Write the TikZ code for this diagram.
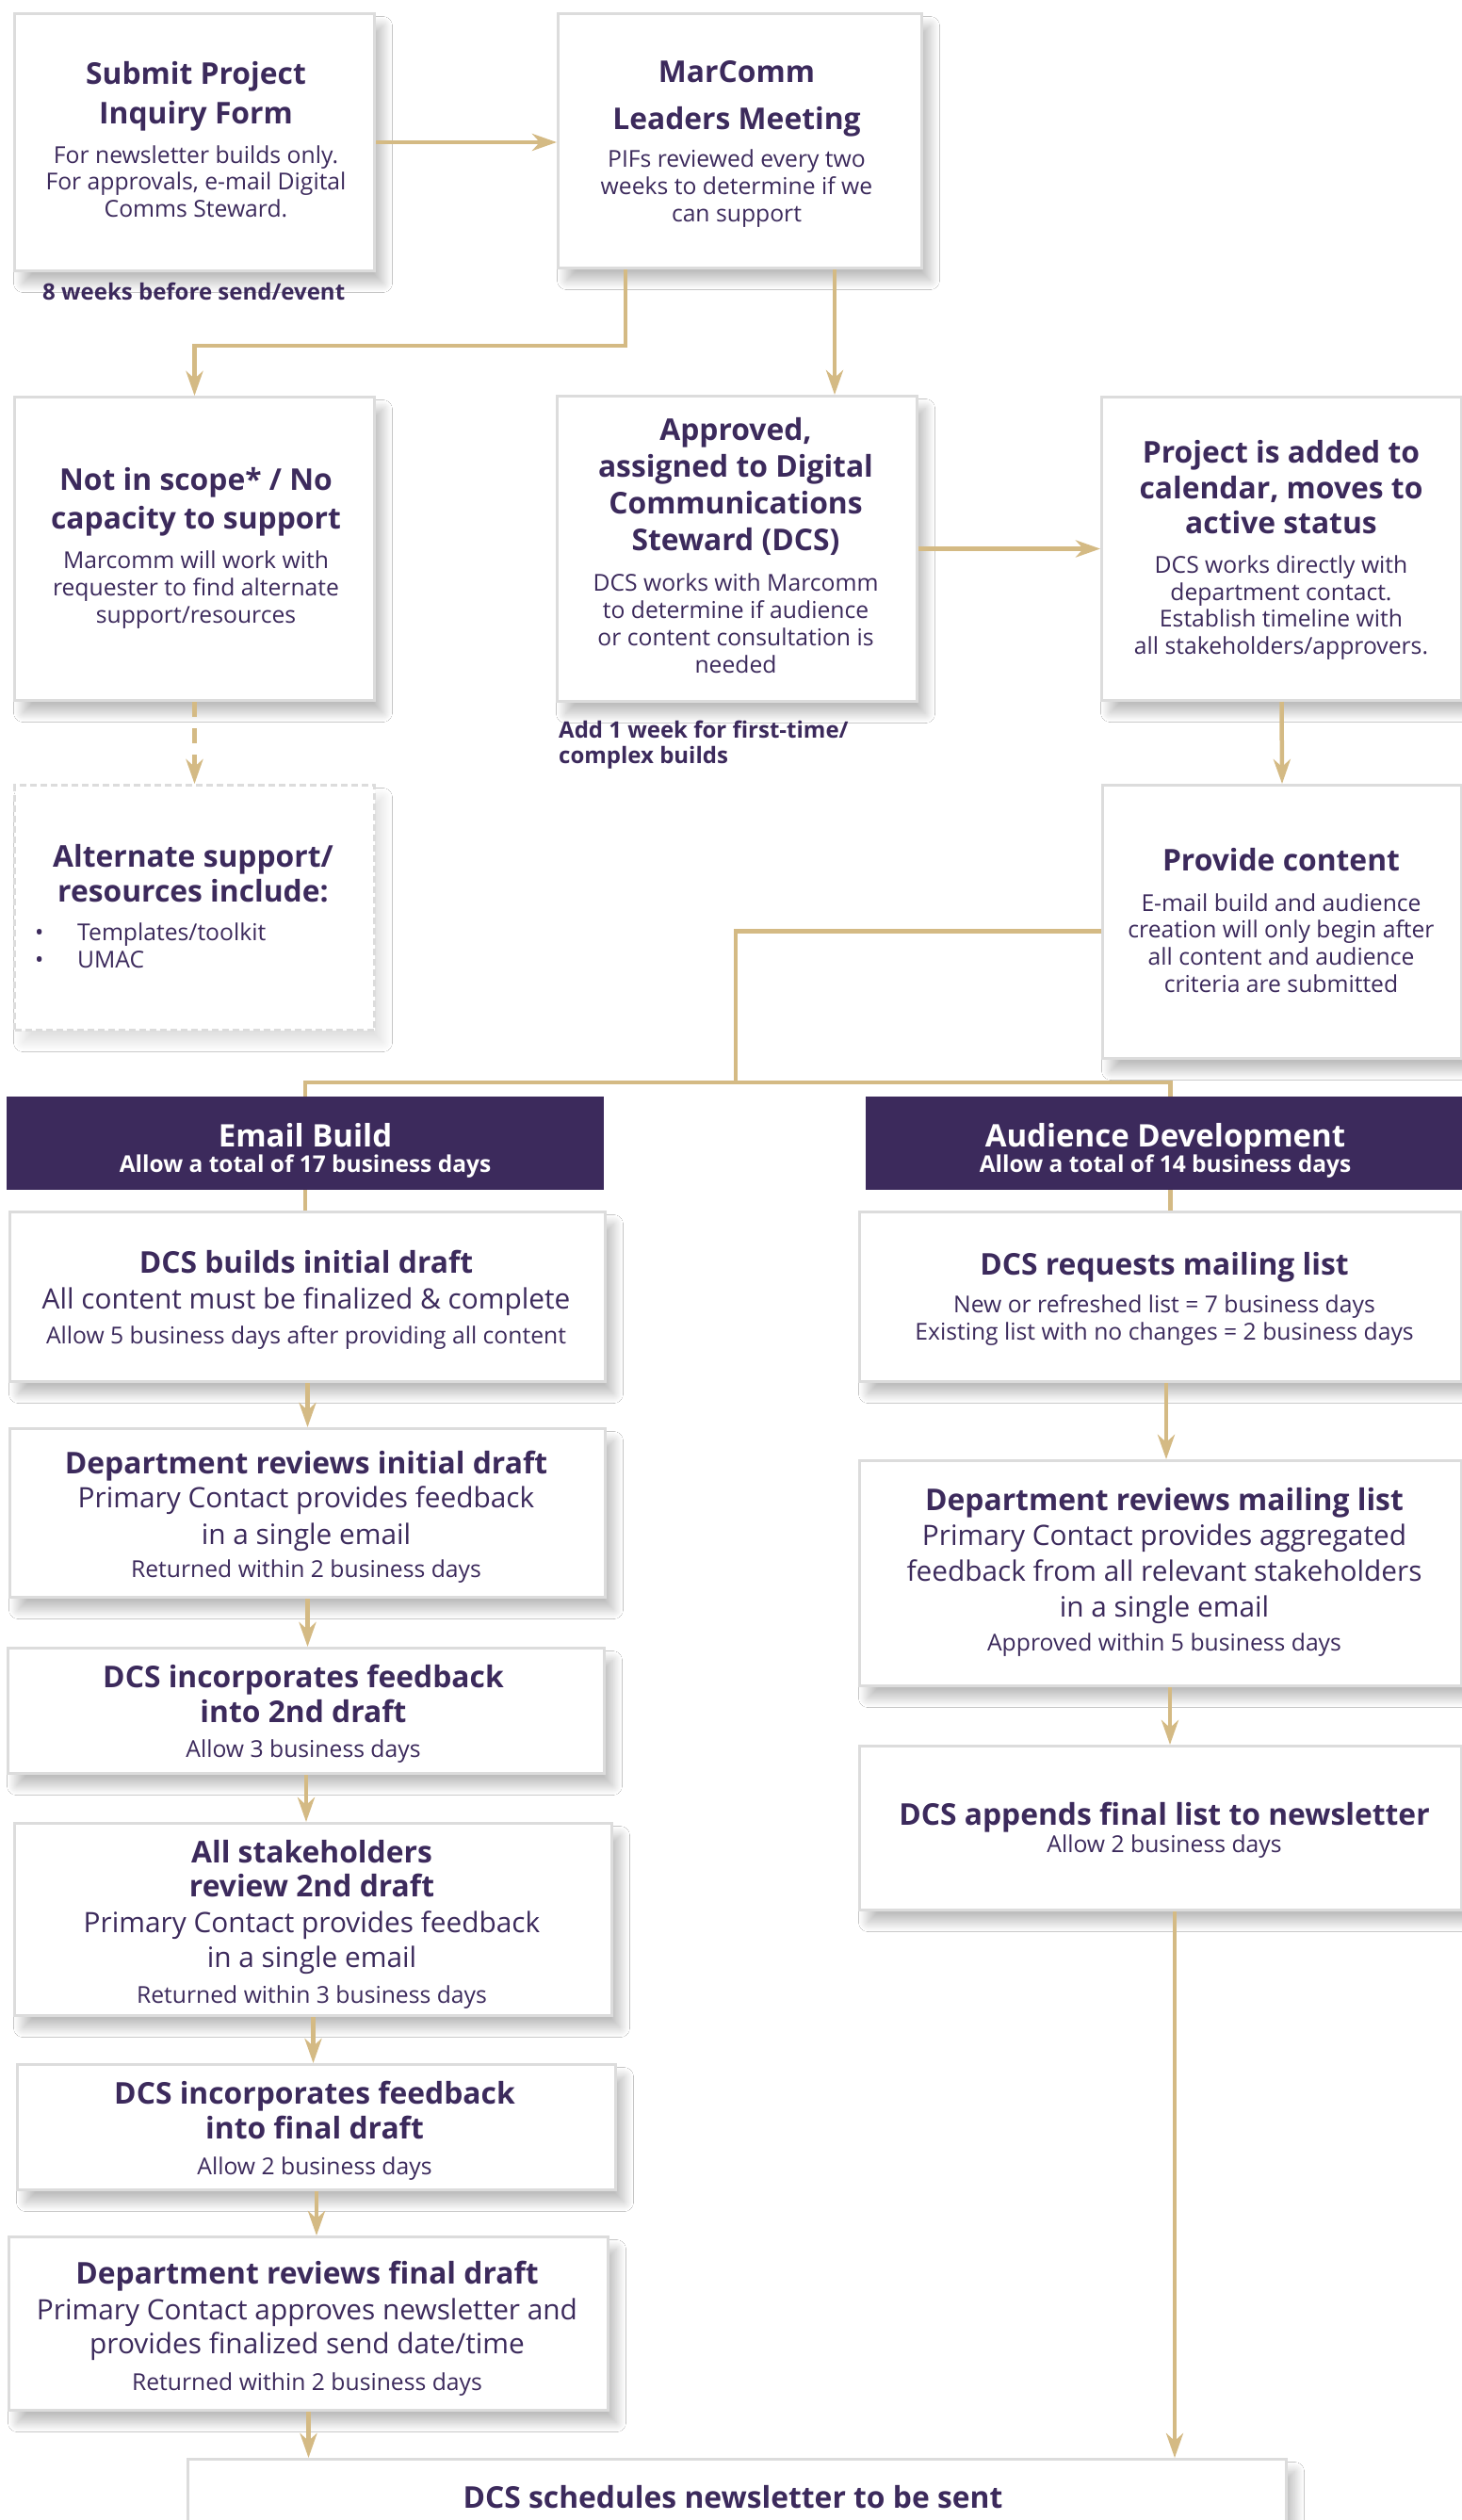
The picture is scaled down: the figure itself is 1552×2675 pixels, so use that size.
\documentclass[tikz,border=0pt]{standalone}
\usepackage{fontspec}
\setmainfont{Open Sans}
\usetikzlibrary{arrows.meta,shadows.blur,calc}
\definecolor{pur}{RGB}{60,42,92}
\definecolor{gold}{RGB}{212,186,132}
\definecolor{bord}{RGB}{220,220,220}
\tikzset{
  boxbase/.style={rectangle, inner sep=0pt, fill=white, line width=3pt},
  box/.style={boxbase, draw=bord, blur shadow={shadow xshift=9pt, shadow yshift=-13pt, shadow blur radius=10pt, shadow blur steps=20, shadow opacity=26}},
  dbox/.style={boxbase, draw=bord, dash pattern=on 7pt off 4pt, blur shadow={shadow xshift=9pt, shadow yshift=-13pt, shadow blur radius=10pt, shadow blur steps=20, shadow opacity=12}},
  hbox/.style={rectangle, inner sep=0pt, fill=pur, draw=none},
  ttl/.style={text=pur, inner sep=0pt, font=\fontsize{31.8}{40}\selectfont\bfseries},
  bod/.style={text=pur, inner sep=0pt, font=\fontsize{24.7}{29}\selectfont},
  big/.style={text=pur, inner sep=0pt, font=\fontsize{29.8}{36}\selectfont},
  note/.style={text=pur, inner sep=0pt, font=\fontsize{24}{29}\selectfont\bfseries},
  htt/.style={text=white, inner sep=0pt, font=\fontsize{33}{40}\selectfont\bfseries},
  hts/.style={text=white, inner sep=0pt, font=\fontsize{24.5}{29}\selectfont\bfseries},
  link/.style={draw=gold, line width=4.5pt},
  arr/.style={link, -{Stealth[length=26pt, width=18pt, inset=8pt]}},
  darr/.style={arr, dash pattern=on 16pt off 12pt}
}
\newcommand\bx[6]{\node[#2, anchor=north west, minimum width={#5-#3}, minimum height={#6-#4}] (#1) at (#3,#4) {};}
\newcommand\tl[5]{\node[#2, anchor=base] (#1) at (#3,#4) {#5};}
\newcommand\tw[5]{\node[#2, anchor=base west] (#1) at (#3,#4) {#5};}
\begin{document}
\begin{tikzpicture}[x=1pt,y=-1pt]
\useasboundingbox[fill=white] (0,0) rectangle (1552,2675);
% boxes
\bx{A}{box}{14}{13}{396}{286}
\bx{B}{box}{591}{13}{977}{283}
\bx{C}{box}{14}{420}{396}{742}
\bx{D}{box}{590}{419}{972}{743}
\bx{E}{box}{1168}{420}{1550}{742}
\bx{F}{dbox}{14}{832}{396}{1092}
\bx{G}{box}{1169}{832}{1550}{1122}
\bx{EB}{hbox}{7}{1164}{641}{1263}
\bx{AD}{hbox}{919}{1164}{1560}{1263}
\bx{H}{box}{9}{1285}{641}{1465}
\bx{I}{box}{911}{1285}{1550}{1465}
\bx{J}{box}{9}{1515}{641}{1694}
\bx{K}{box}{911}{1549}{1550}{1788}
\bx{L}{box}{7}{1748}{640}{1881}
\bx{M}{box}{14}{1934}{648}{2138}
\bx{N}{box}{17}{2190}{652}{2323}
\bx{O}{box}{8}{2373}{644}{2557}
\bx{R}{box}{911}{1852}{1550}{2026}
\bx{P}{box}{198}{2609}{1364}{2720}
% texts
\tl{A1}{ttl}{208}{89}{Submit Project}
\tl{A2}{ttl}{208}{131}{Inquiry Form}
\tl{A3}{bod}{208}{173}{For newsletter builds only.}
\tl{A4}{bod}{208}{201}{For approvals, e-mail Digital}
\tl{A5}{bod}{208}{230}{Comms Steward.}
\tw{N1}{note}{45}{318}{8 weeks before send/event}
\tl{B1}{ttl}{782}{87}{MarComm}
\tl{B2}{ttl}{782}{137}{Leaders Meeting}
\tl{B3}{bod}{782}{177}{PIFs reviewed every two}
\tl{B4}{bod}{782}{206}{weeks to determine if we}
\tl{B5}{bod}{782}{235}{can support}
\tl{C1}{ttl}{208}{520}{Not in scope* / No}
\tl{C2}{ttl}{208}{561}{capacity to support}
\tl{C3}{bod}{208}{603}{Marcomm will work with}
\tl{C4}{bod}{208}{632}{requester to find alternate}
\tl{C5}{bod}{208}{661}{support/resources}
\tl{D1}{ttl}{781}{467}{Approved,}
\tl{D2}{ttl}{781}{506}{assigned to Digital}
\tl{D3}{ttl}{781}{545}{Communications}
\tl{D4}{ttl}{781}{584}{Steward (DCS)}
\tl{D5}{bod}{781}{627}{DCS works with Marcomm}
\tl{D6}{bod}{781}{656}{to determine if audience}
\tl{D7}{bod}{781}{685}{or content consultation is}
\tl{D8}{bod}{781}{714}{needed}
\tw{N2}{note}{593}{783}{Add 1 week for first-time/}
\tw{N3}{note}{593}{810}{complex builds}
\tl{E1}{ttl}{1360}{491}{Project is added to}
\tl{E2}{ttl}{1360}{529}{calendar, moves to}
\tl{E3}{ttl}{1360}{566}{active status}
\tl{E4}{bod}{1360}{608}{DCS works directly with}
\tl{E5}{bod}{1360}{637}{department contact.}
\tl{E6}{bod}{1360}{665}{Establish timeline with}
\tl{E7}{bod}{1360}{694}{all stakeholders/approvers.}
\tl{F1}{ttl}{205}{920}{Alternate support/}
\tl{F2}{ttl}{205}{957}{resources include:}
\tw{F3}{bod}{37}{998}{•}
\tw{F4}{bod}{82}{998}{Templates/toolkit}
\tw{F5}{bod}{37}{1027}{•}
\tw{F6}{bod}{82}{1027}{UMAC}
\tl{G1}{ttl}{1360}{924}{Provide content}
\tl{G2}{bod}{1360}{967}{E-mail build and audience}
\tl{G3}{bod}{1360}{995}{creation will only begin after}
\tl{G4}{bod}{1360}{1024}{all content and audience}
\tl{G5}{bod}{1360}{1053}{criteria are submitted}
\tl{EB1}{htt}{324}{1217}{Email Build}
\tl{EB2}{hts}{324}{1244}{Allow a total of 17 business days}
\tl{AD1}{htt}{1237}{1217}{Audience Development}
\tl{AD2}{hts}{1237}{1244}{Allow a total of 14 business days}
\tl{H1}{ttl}{325}{1351}{DCS builds initial draft}
\tl{H2}{big}{325}{1389}{All content must be finalized \& complete}
\tl{H3}{bod}{325}{1426}{Allow 5 business days after providing all content}
\tl{I1}{ttl}{1236}{1353}{DCS requests mailing list}
\tl{I2}{bod}{1236}{1393}{New or refreshed list = 7 business days}
\tl{I3}{bod}{1236}{1422}{Existing list with no changes = 2 business days}
\tl{J1}{ttl}{325}{1564}{Department reviews initial draft}
\tl{J2}{big}{325}{1600}{Primary Contact provides feedback}
\tl{J3}{big}{325}{1639}{in a single email}
\tl{J4}{bod}{325}{1674}{Returned within 2 business days}
\tl{K1}{ttl}{1236}{1603}{Department reviews mailing list}
\tl{K2}{big}{1236}{1640}{Primary Contact provides aggregated}
\tl{K3}{big}{1236}{1678}{feedback from all relevant stakeholders}
\tl{K4}{big}{1236}{1716}{in a single email}
\tl{K5}{bod}{1236}{1752}{Approved within 5 business days}
\tl{L1}{ttl}{322}{1791}{DCS incorporates feedback}
\tl{L2}{ttl}{322}{1828}{into 2nd draft}
\tl{L3}{bod}{322}{1865}{Allow 3 business days}
\tl{M1}{ttl}{331}{1977}{All stakeholders}
\tl{M2}{ttl}{331}{2013}{review 2nd draft}
\tl{M3}{big}{331}{2051}{Primary Contact provides feedback}
\tl{M4}{big}{331}{2088}{in a single email}
\tl{M5}{bod}{331}{2126}{Returned within 3 business days}
\tl{NN1}{ttl}{334}{2233}{DCS incorporates feedback}
\tl{NN2}{ttl}{334}{2270}{into final draft}
\tl{NN3}{bod}{334}{2308}{Allow 2 business days}
\tl{O1}{ttl}{326}{2424}{Department reviews final draft}
\tl{O2}{big}{326}{2462}{Primary Contact approves newsletter and}
\tl{O3}{big}{326}{2498}{provides finalized send date/time}
\tl{O4}{bod}{326}{2537}{Returned within 2 business days}
\tl{R1}{ttl}{1236}{1937}{DCS appends final list to newsletter}
\tl{R2}{bod}{1236}{1966}{Allow 2 business days}
\tl{P1}{ttl}{778}{2662}{DCS schedules newsletter to be sent}
% connectors
\coordinate (sp) at (781,1149);
\draw[arr] (A.east) -- (A.east -| B.west);
\draw[arr] ($(B.south west)+(73,0)$) -- ++(0,81) -| (C.north);
\draw[arr] ($(B.south west)+(295,0)$) coordinate (b2) -- (b2 |- D.north);
\draw[arr] (D.east) -- (D.east -| E.west);
\draw[darr] (C.south) -- (F.north);
\draw[arr] (E.south) -- (G.north);
\draw[link] ($(G.west)+(0,10)$) -| (sp);
\draw[link] (EB.north) |- (sp) -| ($(AD.north)+(3,0)$);
\draw[link] (EB.south) -- (EB.south |- H.north);
\draw[link] ($(AD.south)+(3,0)$) coordinate (ad2) -- (ad2 |- I.north);
\draw[arr] (H.south) -- (J.north);
\draw[arr] ($(I.south)+(6,0)$) coordinate (i2) -- (i2 |- K.north);
\draw[arr] (J.south) -- (J.south |- L.north);
\draw[arr] (L.south) -- (L.south |- M.north);
\draw[arr] (M.south) -- (M.south |- N.north);
\draw[arr] (N.south) -- (N.south |- O.north);
\draw[arr] (O.south) -- (O.south |- P.north);
\draw[arr] ($(K.south)+(10,0)$) coordinate (k2) -- (k2 |- R.north);
\draw[arr] ($(R.south)+(15,0)$) coordinate (r2) -- (r2 |- P.north);
\end{tikzpicture}
\end{document}
